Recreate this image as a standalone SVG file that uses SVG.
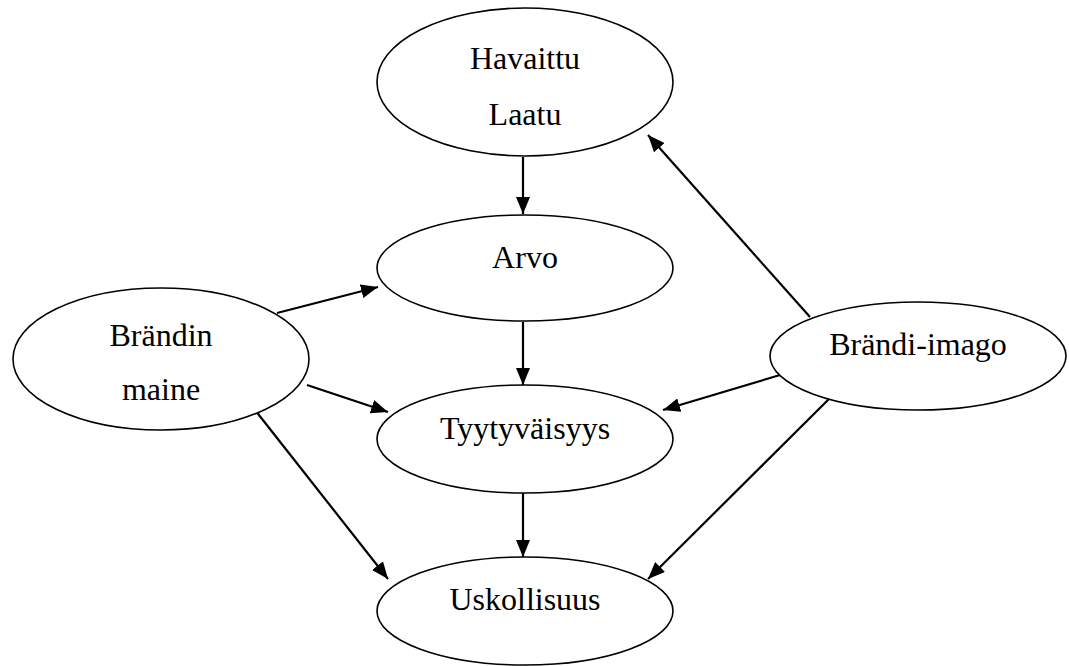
<svg xmlns="http://www.w3.org/2000/svg" width="1069" height="666" viewBox="0 0 1069 666">
<style>
.node ellipse{fill:#fff;stroke:#000;stroke-width:1.6}
.node text{font-family:"Liberation Serif","Times New Roman",serif;font-size:32px;fill:#000;text-anchor:middle}
.edges line{stroke:#000;stroke-width:2.2;marker-end:url(#ah)}
</style>
<defs>
<marker id="ah" markerUnits="userSpaceOnUse" markerWidth="18" markerHeight="14" refX="17" refY="7" orient="auto">
<path d="M0,0 L17,7 L0,14 z" fill="#000"/>
</marker>
</defs>
<rect width="1069" height="666" fill="#fff"/>
<g class="edges" id="connectors">
<line x1="523" y1="157" x2="523" y2="214"/>
<line x1="523" y1="322" x2="523" y2="385"/>
<line x1="523" y1="493" x2="523" y2="557"/>
<line x1="277" y1="313" x2="378" y2="287"/>
<line x1="307" y1="385" x2="388" y2="412"/>
<line x1="255" y1="410" x2="388" y2="579"/>
<line x1="810" y1="317" x2="648" y2="135"/>
<line x1="780" y1="375" x2="663" y2="410"/>
<line x1="830" y1="398" x2="648" y2="579"/>
</g>
<g class="node" id="havaittu-laatu">
<ellipse cx="525" cy="82" rx="148" ry="74"/>
<text x="525" y="69">Havaittu</text>
<text x="525" y="125">Laatu</text>
</g>
<g class="node" id="arvo">
<ellipse cx="525" cy="268" rx="148" ry="53"/>
<text x="525" y="268">Arvo</text>
</g>
<g class="node" id="brandin-maine">
<ellipse cx="161" cy="359" rx="148" ry="71"/>
<text x="161" y="346">Brändin</text>
<text x="161" y="400">maine</text>
</g>
<g class="node" id="brandi-imago">
<ellipse cx="918" cy="356" rx="148" ry="54"/>
<text x="918" y="355">Brändi-imago</text>
</g>
<g class="node" id="tyytyvaisyys">
<ellipse cx="525" cy="439" rx="148" ry="54"/>
<text x="525" y="439">Tyytyväisyys</text>
</g>
<g class="node" id="uskollisuus">
<ellipse cx="525" cy="611" rx="148" ry="54"/>
<text x="525" y="610">Uskollisuus</text>
</g>
</svg>
